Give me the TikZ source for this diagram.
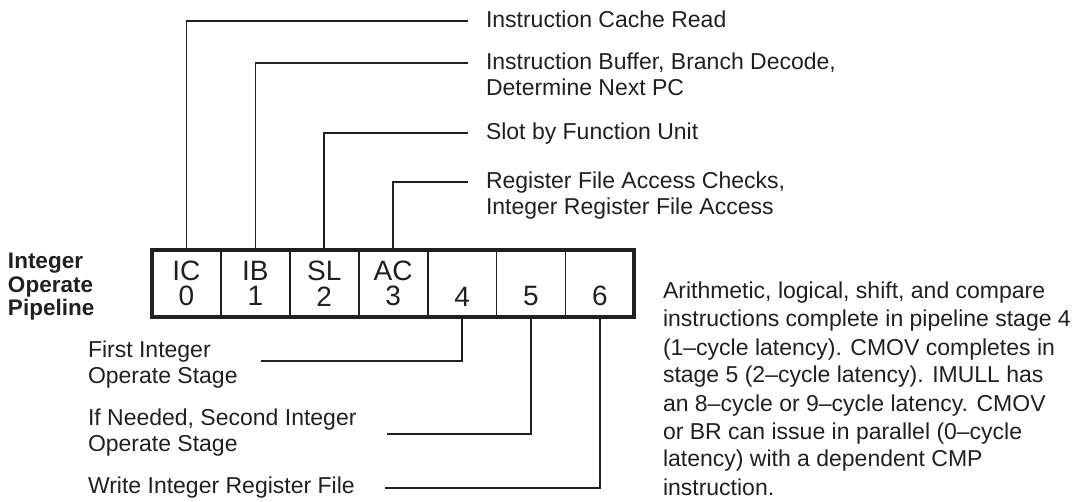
\documentclass[tikz,border=0pt]{standalone}
\usepackage{fontspec}
\setmainfont{Liberation Sans}
\definecolor{ink}{HTML}{231F20}
\newcommand{\stacklines}[1]{\vtop{\halign{##\hfil\cr#1\crcr}}}
\begin{document}
\begin{tikzpicture}[x=1pt,y=-1pt,
  cell/.style={draw=ink, line width=1.8pt, outer sep=0pt, minimum width=68.9pt, minimum height=67pt, inner sep=0pt,
    align=center, font=\fontsize{28}{25.5}\selectfont, text=ink},
  lbl/.style={font=\fontsize{23}{26}\selectfont, text=ink, inner sep=0pt, outer sep=0pt, anchor=base west},
  conn/.style={draw=ink, line width=1.6pt},
]
\useasboundingbox (0,0) rectangle (1086,502);

% pipeline cells
\node[cell] (c0) at (186.45,283.5) {IC\\0};
\node[cell] (c1) at (255.35,283.5) {IB\\1};
\node[cell] (c2) at (324.25,283.5) {SL\\2};
\node[cell] (c3) at (393.15,283.5) {AC\\3};
\node[cell] (c4) at (462.05,283.5) {\phantom{0}\\4};
\node[cell] (c5) at (530.95,283.5) {\phantom{0}\\5};
\node[cell] (c6) at (599.85,283.5) {\phantom{0}\\6};
\draw[ink, line width=4pt] (c0.north west) rectangle (c6.south east);

% left title
\node[lbl, font=\fontsize{22.5}{23.5}\selectfont\bfseries] (title) at (8,269)
  {\stacklines{Integer\cr Operate\cr Pipeline}};

% top labels
\node[lbl] (t0) at (486,28) {Instruction Cache Read};
\node[lbl] (t1) at (486,70) {\stacklines{Instruction Buffer, Branch Decode,\cr Determine Next PC}};
\node[lbl] (t2) at (486,140) {Slot by Function Unit};
\node[lbl] (t3) at (486,189) {\stacklines{Register File Access Checks,\cr Integer Register File Access}};

\draw[conn] (c0.north) |- ([shift={(-18,-7)}]t0.base west);
\draw[conn] (c1.north) |- ([shift={(-18,-7)}]t1.base west);
\draw[conn] (c2.north) |- ([shift={(-18,-7)}]t2.base west);
\draw[conn] (c3.north) |- ([shift={(-18,-7)}]t3.base west);

% bottom labels
\node[lbl] (t4) at (88,357) {\stacklines{First Integer\cr Operate Stage}};
\node[lbl] (t5) at (88,425) {\stacklines{If Needed, Second Integer\cr Operate Stage}};
\node[lbl] (t6) at (88,493) {Write Integer Register File};

\coordinate (e4) at (261,361);
\coordinate (e5) at (387,434);
\coordinate (e6) at (385,488);
\draw[conn] (c4.south) |- (e4);
\draw[conn] (c5.south) |- (e5);
\draw[conn] (c6.south) |- (e6);

% note
\node[lbl, font=\fontsize{23}{28}\selectfont] (note) at (663,299) {\stacklines{Arithmetic, logical, shift, and compare\cr
instructions complete in pipeline stage 4\cr
(1--cycle latency). CMOV completes in\cr
stage 5 (2--cycle latency). IMULL has\cr
an 8--cycle or 9--cycle latency. CMOV\cr
or BR can issue in parallel (0--cycle\cr
latency) with a dependent CMP\cr
instruction.}};
\end{tikzpicture}
\end{document}
